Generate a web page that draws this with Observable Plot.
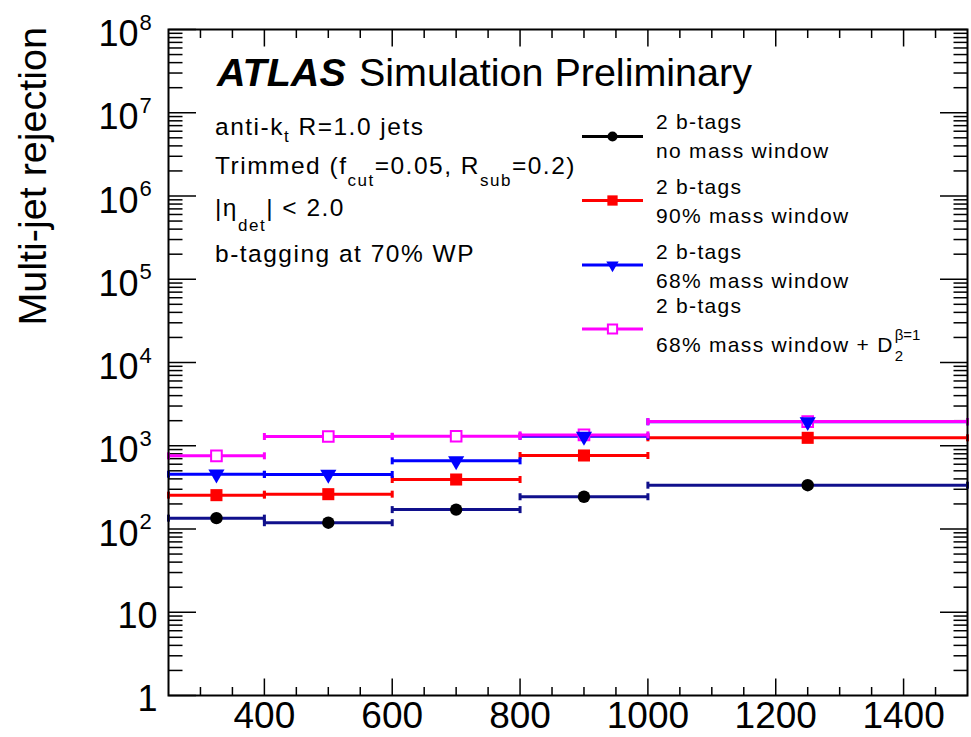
<!DOCTYPE html>
<html>
<head>
<meta charset="utf-8">
<script src="https://cdn.jsdelivr.net/npm/d3@7"></script>
<script src="https://cdn.jsdelivr.net/npm/@observablehq/plot@0.6"></script>
<style>
  body { margin: 0; background: #fff; }
  #chart svg { display: block; }
</style>
</head>
<body>
<div id="chart"></div>
<script>
// Large-R jet pT bins [GeV]
const binLow = [250, 400, 600, 800, 1000];
const binHigh = [400, 600, 800, 1000, 1500];
const binCentre = [325, 500, 700, 900, 1250];

// Multi-jet rejection per bin
const rejNoWindow = [135, 119, 171, 244, 336];
const rej90Window = [255, 262, 393, 764, 1245];
const rej68Window = [455, 452, 659, 1297, 1940];
const rej68WindowD2 = [757, 1291, 1300, 1350, 1950];

// Axis ticks
const xMajorTicks = [400, 600, 800, 1000, 1200, 1400];
const xMinorTicks = [300, 350, 450, 500, 550, 650, 700, 750, 850, 900, 950, 1050, 1100, 1150, 1250, 1300, 1350, 1450];
const yDecadeExponents = [0, 1, 2, 3, 4, 5, 6, 7, 8];
const yMinorMultipliers = [2, 3, 4, 5, 6, 7, 8, 9];

const FONT = "'Liberation Sans', Arial, Helvetica, sans-serif";

// Symbols that draw short line segments (axis ticks and error-bar caps)
const vline = (a, b) => ({ draw(ctx) { ctx.moveTo(0, a); ctx.lineTo(0, b); } });
const hline = (a, b) => ({ draw(ctx) { ctx.moveTo(a, 0); ctx.lineTo(b, 0); } });

const series = [
  { key: "none", values: rejNoWindow, line: "#10108c", marker: "circle", fill: "#000", stroke: "none", r: 6.2 },
  { key: "w90", values: rej90Window, line: "#ff0000", marker: "square", fill: "#ff0000", stroke: "none", r: 6.8 },
  { key: "w68", values: rej68Window, line: "#0000ff", marker: "triangle", fill: "#0000ff", stroke: "none", r: 6.0, rotate: 180 },
  { key: "w68d2", values: rej68WindowD2, line: "#ff00ff", marker: "square", fill: "#fff", stroke: "#ff00ff", r: 6.0 }
];

const rowsFor = s => s.values.map((v, i) => ({ lo: binLow[i], hi: binHigh[i], mid: binCentre[i], v }));

const lineMarks = s => {
  const rows = rowsFor(s);
  return [
    Plot.ruleY(rows, { y: "v", x1: "lo", x2: "hi", stroke: s.line, strokeWidth: 3 }),
    Plot.dot(rows, { x: "lo", y: "v", symbol: vline(-3.5, 3.5), stroke: s.line, strokeWidth: 3, fill: "none" }),
    Plot.dot(rows, { x: "hi", y: "v", symbol: vline(-3.5, 3.5), stroke: s.line, strokeWidth: 3, fill: "none" })
  ];
};
const markerMarks = s => Plot.dot(rowsFor(s), {
  x: "mid", y: "v", symbol: s.marker, r: s.r, fill: s.fill, stroke: s.stroke,
  strokeWidth: s.stroke === "none" ? 0 : 2, rotate: s.rotate || 0
});

const [sNone, s90, s68, s68d2] = series;

const yMinor = yDecadeExponents.slice(0, -1).flatMap(e => yMinorMultipliers.map(m => m * 10 ** e));
const yMajor = yDecadeExponents.map(e => 10 ** e);

const tickStyle = { stroke: "#000", strokeWidth: 1.5, fill: "none" };

const chart = Plot.plot({
  width: 971,
  height: 737,
  marginLeft: 168,
  marginRight: 4,
  marginTop: 29,
  marginBottom: 42,
  style: { fontFamily: FONT, background: "#fff", color: "#000" },
  x: { domain: [250, 1500], axis: null },
  y: { type: "log", domain: [1, 1e8], axis: null },
  marks: [
    // inward ticks on all four sides
    Plot.dot(xMajorTicks, { x: d => d, frameAnchor: "bottom", symbol: vline(0, -17), ...tickStyle }),
    Plot.dot(xMinorTicks, { x: d => d, frameAnchor: "bottom", symbol: vline(0, -8.5), ...tickStyle }),
    Plot.dot(xMajorTicks, { x: d => d, frameAnchor: "top", symbol: vline(0, 17), ...tickStyle }),
    Plot.dot(xMinorTicks, { x: d => d, frameAnchor: "top", symbol: vline(0, 8.5), ...tickStyle }),
    Plot.dot(yMajor, { y: d => d, frameAnchor: "left", symbol: hline(0, 27.5), ...tickStyle }),
    Plot.dot(yMinor, { y: d => d, frameAnchor: "left", symbol: hline(0, 14), ...tickStyle }),
    Plot.dot(yMajor, { y: d => d, frameAnchor: "right", symbol: hline(0, -27.5), ...tickStyle }),
    Plot.dot(yMinor, { y: d => d, frameAnchor: "right", symbol: hline(0, -14), ...tickStyle }),

    // x tick labels
    Plot.text(xMajorTicks, { x: d => d, frameAnchor: "bottom", dy: 32, text: d => String(d), fontSize: 37, fill: "#000" }),
    // y tick labels: 1, 10, then 10^n
    Plot.text(yDecadeExponents.filter(e => e < 2), { y: d => 10 ** d, frameAnchor: "left", textAnchor: "end", dx: -11, dy: 4, text: d => String(10 ** d), fontSize: 36, fill: "#000" }),
    Plot.text(yDecadeExponents.filter(e => e >= 2), { y: d => 10 ** d, frameAnchor: "left", textAnchor: "end", dx: -30, dy: 5, text: () => "10", fontSize: 36, fill: "#000" }),
    Plot.text(yDecadeExponents.filter(e => e >= 2), { y: d => 10 ** d, frameAnchor: "left", textAnchor: "start", dx: -29, dy: -7, text: d => String(d), fontSize: 22, fill: "#000" }),

    // data: error bars first, then markers
    ...lineMarks(sNone), markerMarks(sNone),
    ...lineMarks(s90), markerMarks(s90),
    ...lineMarks(s68),
    ...lineMarks(s68d2), markerMarks(s68d2),
    markerMarks(s68),

    Plot.frame({ stroke: "#000", strokeWidth: 2 })
  ]
});

document.getElementById("chart").appendChild(chart);

// Annotations and legend drawn into the same SVG
const svg = d3.select(chart);
const g = svg.append("g")
  .attr("font-family", FONT)
  .attr("fill", "#000")
  .attr("text-anchor", "start");

// y-axis title
g.append("text")
  .attr("transform", "translate(46,27) rotate(-90)")
  .attr("text-anchor", "end")
  .attr("font-size", 39.5)
  .text("Multi-jet rejection");

// ATLAS label
const atlas = g.append("text").attr("x", 217).attr("y", 86).attr("font-size", 39.5);
atlas.append("tspan").attr("font-weight", "bold").attr("font-style", "italic").text("ATLAS");
atlas.append("tspan").attr("x", 359).text("Simulation Preliminary");

// selection description
const info = g.append("g").attr("font-size", 24.5).attr("letter-spacing", 1.5);
const addRich = (parent, x, y, parts) => {
  const t = parent.append("text").attr("x", x).attr("y", y);
  for (const p of parts) {
    const ts = t.append("tspan").text(p.t);
    if (p.sub) ts.attr("font-size", 17).attr("dy", p.sub);
    if (p.up) ts.attr("dy", -p.up);
  }
  return t;
};
addRich(info, 215, 135, [{ t: "anti-k" }, { t: "t", sub: 7 }, { t: " R=1.0 jets", up: 7 }]);
addRich(info, 215, 174, [{ t: "Trimmed (f" }, { t: "cut", sub: 12 }, { t: "=0.05, R", up: 12 }, { t: "sub", sub: 12 }, { t: "=0.2)", up: 12 }]);
addRich(info, 215, 216, [{ t: "|η" }, { t: "det", sub: 15 }, { t: "| < 2.0", up: 15 }]);
addRich(info, 215, 262, [{ t: "b-tagging at 70% WP" }]);

// legend
const legend = g.append("g").attr("font-size", 21).attr("letter-spacing", 1.3);
const legendRows = [
  { s: sNone, lineColor: "#000", y: 136.5, l1: 129, l2: 158, r: 5 },
  { s: s90, lineColor: "#ff0000", y: 200.5, l1: 194, l2: 223, r: 5.8 },
  { s: s68, lineColor: "#0000ff", y: 265, l1: 259, l2: 288, r: 4.6 },
  { s: s68d2, lineColor: "#ff00ff", y: 329, l1: 313, l2: 352, r: 5.2 }
];
const legendText2 = ["no mass window", "90% mass window", "68% mass window", "68% mass window + D"];
legendRows.forEach((row, i) => {
  legend.append("line").attr("x1", 582).attr("x2", 643).attr("y1", row.y).attr("y2", row.y)
    .attr("stroke", row.lineColor).attr("stroke-width", 3);
  const sym = { circle: d3.symbolCircle, square: d3.symbolSquare, triangle: d3.symbolTriangle }[row.s.marker];
  legend.append("path")
    .attr("d", d3.symbol(sym, row.r * row.r * Math.PI)())
    .attr("transform", `translate(612.5,${row.y}) rotate(${row.s.rotate || 0})`)
    .attr("fill", row.s.fill)
    .attr("stroke", row.s.stroke)
    .attr("stroke-width", row.s.stroke === "none" ? 0 : 2);
  legend.append("text").attr("x", 656).attr("y", row.l1).text("2 b-tags");
  const t = legend.append("text").attr("x", 656).attr("y", row.l2).text(legendText2[i]);
  if (i === 3) {
    const d = t.node().getComputedTextLength();
    legend.append("text").attr("x", 656 + d + 1).attr("y", row.l2 + 9).attr("font-size", 15).attr("letter-spacing", 0).text("2");
    legend.append("text").attr("x", 656 + d + 1).attr("y", row.l2 - 12).attr("font-size", 15).attr("letter-spacing", 0).text("β=1");
  }
});
</script>
</body>
</html>
